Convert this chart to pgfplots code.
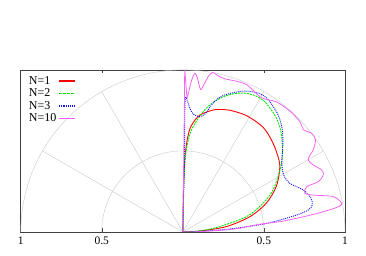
\documentclass[border=0pt]{standalone}
\usepackage{pgfplots}
\pgfplotsset{compat=1.18}
\usepackage{fontspec}
\setmainfont{Liberation Serif}
\definecolor{cred}{RGB}{255,0,0}
\definecolor{cgreen}{RGB}{0,235,0}
\definecolor{cblue}{RGB}{20,20,255}
\definecolor{cmag}{RGB}{245,100,245}
\definecolor{gridc}{RGB}{200,200,200}
\begin{document}
\begin{tikzpicture}
\begin{axis}[
  at={(0,0)}, anchor=south west, scale only axis,
  width=324.3pt, height=162pt,
  xmin=-1, xmax=1, ymin=0, ymax=1,
  axis line style={draw=black!75, line width=0.6pt},
  xtick={-1,-0.5,0.5,1}, xticklabels={1,0.5,0.5,1}, ytick=\empty,
  tick align=inside, major tick length=3.5pt,
  tick style={black!75, line width=0.5pt},
  xticklabel style={font=\fontsize{11.5}{13}\selectfont, yshift=-1.5pt},
  /pgf/number format/assume math mode=true,
  legend style={at={(0,1)}, anchor=north west, draw=none, fill=none,
    font=\fontsize{12}{14}\selectfont, inner xsep=2.5pt, inner ysep=0pt,
    row sep=1.8pt, yshift=-5.5pt, xshift=3.5pt,
    nodes={inner ysep=0.6pt}},
  legend cell align=left, legend plot pos=right,
]
% polar grid
\draw[gridc, line width=0.4pt] (axis cs:0.5,0) arc[start angle=0, end angle=180, radius=81.1pt];
\draw[gridc, line width=0.4pt] (axis cs:1,0) arc[start angle=0, end angle=180, radius=162.1pt];
\draw[gridc, line width=0.4pt] (axis cs:0,0) -- (axis cs:0.866,0.5);
\draw[gridc, line width=0.4pt] (axis cs:0,0) -- (axis cs:0.5,0.866);
\draw[gridc, line width=0.4pt] (axis cs:0,0) -- (axis cs:-0.5,0.866);
\draw[gridc, line width=0.4pt] (axis cs:0,0) -- (axis cs:-0.866,0.5);

\addlegendimage{cred, line width=0.9pt, legend image code/.code={\draw[draw=cred, color=cred, line width=1.3pt] (0pt,0pt) -- (16pt,0pt);}}
\addlegendentry{N=1}
\addlegendimage{cgreen, line width=0.9pt, legend image code/.code={\draw[draw=cgreen, color=cgreen, line width=1.3pt, dash pattern=on 3pt off 1pt] (0pt,0pt) -- (16pt,0pt);}}
\addlegendentry{N=2}
\addlegendimage{cblue, line width=0.9pt, legend image code/.code={\draw[draw=cblue, color=cblue, line width=1.3pt, dash pattern=on 1.2pt off 1pt] (0pt,0pt) -- (16pt,0pt);}}
\addlegendentry{N=3}
\addlegendimage{cmag, line width=0.8pt, legend image code/.code={\draw[draw=cmag, color=cmag, line width=1.3pt] (0pt,0pt) -- (16pt,0pt);}}
\addlegendentry{N=10}

\addplot[cred, line width=0.9pt, smooth, forget plot] coordinates {
(0,0) (0.002,0.15) (0.005,0.3) (0.010,0.42) (0.022,0.54) (0.041,0.63) (0.064,0.675)
(0.105,0.722) (0.187,0.753) (0.25,0.756) (0.290,0.752) (0.393,0.718) (0.496,0.645)
(0.556,0.549) (0.593,0.444) (0.597,0.383) (0.576,0.280) (0.514,0.177) (0.412,0.094)
(0.267,0.033) (0.103,0.006) (0,0)};

\addplot[cgreen, line width=0.9pt, dash pattern=on 2pt off 1pt, smooth, forget plot] coordinates {
(0,0) (0.003,0.2) (0.008,0.35) (0.02,0.5) (0.045,0.61) (0.075,0.67) (0.105,0.715)
(0.145,0.765) (0.187,0.80) (0.24,0.83) (0.29,0.848) (0.34,0.857) (0.393,0.856)
(0.45,0.84) (0.496,0.813) (0.52,0.788) (0.548,0.75) (0.578,0.702) (0.605,0.619)
(0.614,0.517) (0.611,0.444) (0.597,0.375) (0.556,0.259) (0.494,0.177) (0.391,0.094)
(0.206,0.027) (0.08,0.004) (0,0)};

\addplot[cblue, line width=0.9pt, dash pattern=on 1pt off 1pt, smooth, forget plot] coordinates {
(0,0) (0.004,0.2) (0.009,0.4) (0.011,0.6) (0.012,0.75) (0.014,0.81) (0.018,0.833)
(0.026,0.815) (0.043,0.765) (0.064,0.728) (0.099,0.713) (0.136,0.728) (0.191,0.802)
(0.240,0.838) (0.296,0.857) (0.372,0.870) (0.426,0.866) (0.470,0.856) (0.517,0.828)
(0.557,0.775) (0.588,0.722) (0.605,0.671) (0.615,0.619) (0.617,0.537) (0.611,0.45)
(0.611,0.41) (0.622,0.352) (0.660,0.300) (0.743,0.259) (0.790,0.210) (0.798,0.167)
(0.774,0.136) (0.702,0.105) (0.578,0.068) (0.475,0.045) (0.290,0.019) (0.105,0.004) (0,0)};

\addplot[cmag, line width=0.8pt, smooth, forget plot] coordinates {
(0,0) (0.003,0.25) (0.006,0.5) (0.009,0.75) (0.011,0.95) (0.012,1.0) (0.016,0.95)
(0.022,0.87) (0.027,0.83) (0.035,0.86) (0.055,0.94) (0.074,0.98) (0.09,0.95)
(0.109,0.88) (0.13,0.91) (0.16,0.965) (0.187,0.985) (0.215,0.965) (0.26,0.945)
(0.311,0.935) (0.393,0.91) (0.475,0.835) (0.530,0.815) (0.578,0.803) (0.660,0.747)
(0.722,0.681) (0.743,0.632) (0.794,0.609) (0.818,0.568) (0.804,0.506) (0.784,0.475)
(0.773,0.444) (0.804,0.414) (0.856,0.383) (0.866,0.352) (0.835,0.310) (0.764,0.280)
(0.753,0.239) (0.804,0.228) (0.928,0.218) (0.980,0.177) (0.959,0.156) (0.866,0.125)
(0.743,0.094) (0.599,0.064) (0.475,0.048) (0.309,0.017) (0.103,0.002) (0,0)};
\end{axis}
\path[use as bounding box] (-20.7pt,-24pt) rectangle (345.3pt,232pt);
\end{tikzpicture}
\end{document}
